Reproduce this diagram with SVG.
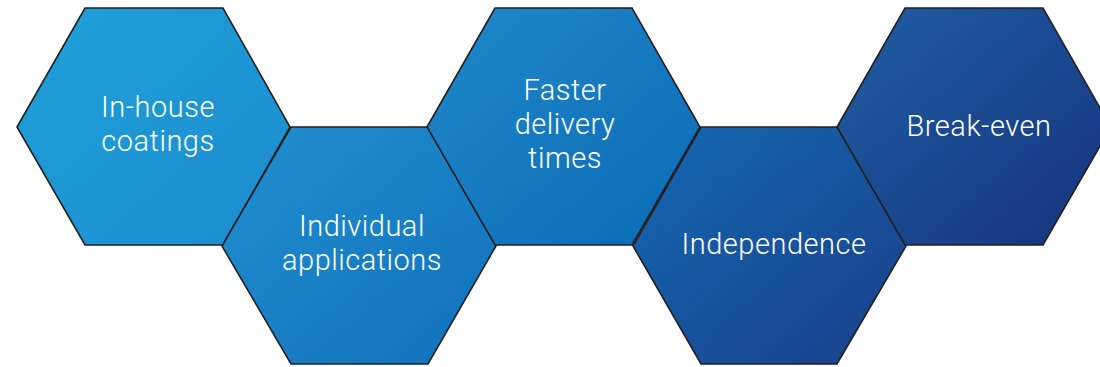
<svg xmlns="http://www.w3.org/2000/svg" width="1100" height="367" viewBox="0 0 1100 367">
<style>
.hex{stroke:#231f20;stroke-width:1.6;stroke-linejoin:miter}
.lbl{font-family:Roboto,"Liberation Sans",sans-serif;font-weight:300;font-size:29px;letter-spacing:0.5px;fill:#ffffff;text-anchor:middle}
</style>
<defs>
<linearGradient id="g1" x1="0" y1="0" x2="1" y2="1"><stop offset="0" stop-color="#1fa0da"/><stop offset="1" stop-color="#1c8ccf"/></linearGradient>
<linearGradient id="g2" x1="0" y1="0" x2="1" y2="1"><stop offset="0" stop-color="#2190d0"/><stop offset="1" stop-color="#1170bc"/></linearGradient>
<linearGradient id="g3" x1="0" y1="0" x2="1" y2="1"><stop offset="0" stop-color="#2088ca"/><stop offset="1" stop-color="#0b6bb6"/></linearGradient>
<linearGradient id="g4" x1="0" y1="0" x2="1" y2="1"><stop offset="0" stop-color="#1469b3"/><stop offset="1" stop-color="#193f88"/></linearGradient>
<linearGradient id="g5" x1="0" y1="0" x2="1" y2="1"><stop offset="0" stop-color="#1f5ea3"/><stop offset="1" stop-color="#15337c"/></linearGradient>
</defs>
<g id="connectors"></g>
<g id="hex1">
<polygon class="hex" fill="url(#g1)" points="17,127 85,8 223,8 290,127 223,245 85,245"/>
<text class="lbl" x="158" y="117">In-house</text>
<text class="lbl" x="158" y="151">coatings</text>
</g>
<g id="hex2">
<polygon class="hex" fill="url(#g2)" points="222,246 291,127 428,127 496,246 428,364 291,364"/>
<text class="lbl" x="362" y="236">Individual</text>
<text class="lbl" x="362" y="270">applications</text>
</g>
<g id="hex3">
<polygon class="hex" fill="url(#g3)" points="427,127 495,8 632,8 700,127 632,245 495,245"/>
<text class="lbl" x="565" y="100">Faster</text>
<text class="lbl" x="565" y="134">delivery</text>
<text class="lbl" x="565" y="168">times</text>
</g>
<g id="hex4">
<polygon class="hex" fill="url(#g4)" points="633,246 701,127 837,127 906,246 837,364 701,364"/>
<text class="lbl" x="774" y="254">Independence</text>
</g>
<g id="hex5">
<polygon class="hex" fill="url(#g5)" points="837,127 905,8 1043,8 1111,127 1043,245 905,245"/>
<text class="lbl" x="979" y="136">Break-even</text>
</g>
</svg>
